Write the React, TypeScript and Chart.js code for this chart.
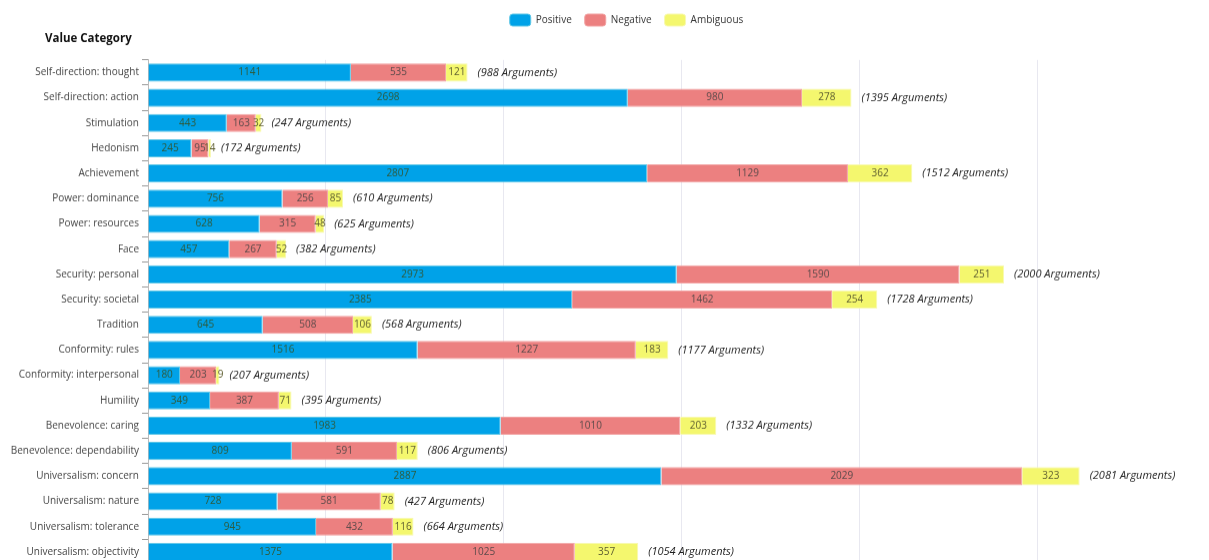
import React, { useEffect, useRef } from 'react';
import { Chart, registerables } from 'chart.js';

Chart.register(...registerables);

const categories = [
  'Self-direction: thought',
  'Self-direction: action',
  'Stimulation',
  'Hedonism',
  'Achievement',
  'Power: dominance',
  'Power: resources',
  'Face',
  'Security: personal',
  'Security: societal',
  'Tradition',
  'Conformity: rules',
  'Conformity: interpersonal',
  'Humility',
  'Benevolence: caring',
  'Benevolence: dependability',
  'Universalism: concern',
  'Universalism: nature',
  'Universalism: tolerance',
  'Universalism: objectivity',
];

const positive = [1141, 2698, 443, 245, 2807, 756, 628, 457, 2973, 2385, 645, 1516, 180, 349, 1983, 809, 2887, 728, 945, 1375];
const negative = [535, 980, 163, 95, 1129, 256, 315, 267, 1590, 1462, 508, 1227, 203, 387, 1010, 591, 2029, 581, 432, 1025];
const ambiguous = [121, 278, 32, 14, 362, 85, 48, 52, 251, 254, 106, 183, 19, 71, 203, 117, 323, 78, 116, 357];
const argumentCounts = [988, 1395, 247, 172, 1512, 610, 625, 382, 2000, 1728, 568, 1177, 207, 395, 1332, 806, 2081, 427, 664, 1054];

const seriesNames = ['Positive', 'Negative', 'Ambiguous'];
const xTickStep = 1000;
const xMax = 6000;

const FONT = '"Open Sans", "Noto Sans", sans-serif';
const fillColors = ['#00a2e8', '#ec8080', '#f4f76e'];
const edgeColors = ['#5cc6e6', '#f2a2a2', '#f8f9b0'];
const labelColors = ['#2f5a3a', '#5c4a4a', '#5e5e30'];

const segmentLabelPlugin = {
  id: 'segmentLabels',
  afterLayout(chart: any) {
    const lg = chart.legend;
    if (lg) {
      lg.left += 15;
      lg.right += 15;
    }
    const tb = chart.titleBlock;
    if (tb) {
      tb.left = 37;
    }
  },
  afterDatasetsDraw(chart: any) {
    const ctx = chart.ctx;
    ctx.save();
    ctx.font = `10px ${FONT}`;
    ctx.textAlign = 'center';
    ctx.textBaseline = 'middle';
    chart.data.datasets.forEach((ds: any, di: number) => {
      const meta = chart.getDatasetMeta(di);
      meta.data.forEach((bar: any, i: number) => {
        const p = bar.getProps(['x', 'base', 'y'], true);
        ctx.fillStyle = labelColors[di];
        ctx.fillText(String(ds.data[i]), (p.x + p.base) / 2, p.y);
      });
    });
    const lastMeta = chart.getDatasetMeta(chart.data.datasets.length - 1);
    ctx.font = `italic 11px ${FONT}`;
    ctx.textAlign = 'left';
    ctx.fillStyle = '#1e1e1e';
    lastMeta.data.forEach((bar: any, i: number) => {
      const p = bar.getProps(['x', 'y'], true);
      ctx.fillText(`(${argumentCounts[i]} Arguments)`, p.x + 10, p.y);
    });
    ctx.restore();
  },
};

export default function App() {
  const canvasRef = useRef<HTMLCanvasElement | null>(null);

  useEffect(() => {
    if (!canvasRef.current) return;
    const seriesData = [positive, negative, ambiguous];
    const chart = new Chart(canvasRef.current, {
      type: 'bar',
      data: {
        labels: categories,
        datasets: seriesNames.map((name, i) => ({
          label: name,
          data: seriesData[i],
          backgroundColor: fillColors[i],
          borderColor: edgeColors[i],
          borderWidth: 1,
        })),
      },
      options: {
        indexAxis: 'y',
        animation: false,
        responsive: true,
        maintainAspectRatio: false,
        layout: { padding: { top: -7, left: 0, right: 0, bottom: 0 } },
        plugins: {
          legend: {
            position: 'top',
            labels: {
              boxWidth: 21,
              boxHeight: 12,
              padding: 13,
              color: '#333',
              font: { family: FONT, size: 10 },
              useBorderRadius: true,
              borderRadius: 3,
            },
          },
          title: {
            display: true,
            text: 'Value Category',
            align: 'start',
            weight: 500,
            color: '#111',
            font: { family: FONT, size: 11.5, weight: 'bold' },
            padding: { top: -4, bottom: 14 },
          },
          tooltip: { enabled: false },
        } as any,
        scales: {
          x: {
            stacked: true,
            min: 0,
            max: xMax,
            ticks: { display: false, stepSize: xTickStep },
            grid: { color: '#e8e8f0', drawTicks: false },
            border: { display: false },
          },
          y: {
            stacked: true,
            ticks: { color: '#444', padding: 3, font: { family: FONT, size: 10 } },
            grid: { drawOnChartArea: false, tickLength: 6, color: '#999' },
            border: { color: '#bbb' },
            afterFit: (s: any) => {
              s.width = 140;
            },
          },
        },
      },
      plugins: [segmentLabelPlugin],
    });
    return () => chart.destroy();
  }, []);

  return (
    <div style={{ position: 'fixed', left: 0, top: 0, width: '100vw', height: '100vh', overflow: 'hidden', background: '#fff' }}>
      <div style={{ position: 'absolute', left: 8, top: 8, width: 1207, height: 564.5 }}>
        <canvas ref={canvasRef} />
      </div>
    </div>
  );
}
